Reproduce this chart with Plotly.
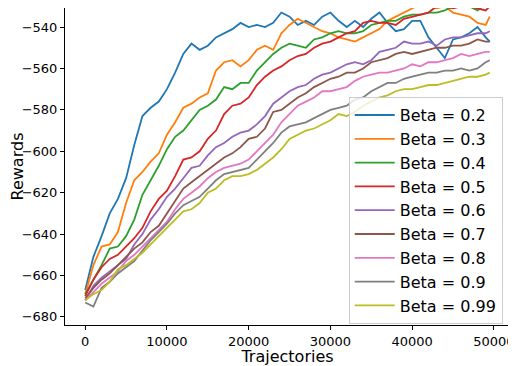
import plotly.graph_objects as go

# trajectories axis (sampled every 1000, last point at 49500)
trajectories = list(range(0, 50000, 1000)) + [49500]

beta_labels = ["Beta = 0.2", "Beta = 0.3", "Beta = 0.4", "Beta = 0.5", "Beta = 0.6",
               "Beta = 0.7", "Beta = 0.8", "Beta = 0.9", "Beta = 0.99"]

beta_02 = [-667, -651, -641, -630, -623, -613, -597, -583, -579, -576,
           -570, -562, -553, -548, -551, -549, -545, -543, -541, -538,
           -540, -539, -540, -538, -533, -535, -539, -537, -539, -535,
           -533, -537, -540, -537, -540, -536, -533, -538, -542, -541,
           -537, -537, -545, -550, -555, -546, -545, -543, -540, -545, -547]
beta_03 = [-669, -655, -646, -645, -639, -625, -614, -610, -605, -601,
           -592, -586, -579, -577, -574, -572, -561, -557, -556, -559,
           -556, -551, -549, -551, -543, -539, -536, -538, -540, -542,
           -543, -545, -546, -547, -545, -543, -541, -537, -535, -533,
           -531, -529, -530, -531, -530, -533, -534, -535, -538, -539, -535]
beta_04 = [-669, -662, -655, -647, -646, -641, -633, -621, -614, -607,
           -599, -593, -590, -585, -580, -578, -575, -569, -570, -567,
           -567, -561, -557, -553, -550, -548, -549, -550, -546, -545,
           -543, -542, -543, -543, -542, -539, -538, -537, -537, -535,
           -534, -534, -533, -533, -532, -530, -529, -530, -532, -529, -529]
beta_05 = [-670, -662, -656, -652, -650, -646, -642, -637, -629, -623,
           -619, -612, -604, -603, -600, -594, -590, -582, -578, -577,
           -574, -568, -564, -561, -559, -556, -554, -553, -550, -548,
           -547, -545, -543, -542, -538, -537, -538, -538, -539, -536,
           -535, -534, -533, -530, -530, -531, -530, -530, -531, -532, -530]
beta_06 = [-672, -665, -661, -658, -655, -652, -645, -640, -633, -628,
           -622, -618, -613, -608, -607, -602, -598, -596, -593, -591,
           -590, -587, -583, -577, -574, -571, -569, -568, -565, -563,
           -562, -560, -558, -557, -558, -556, -552, -551, -550, -547,
           -548, -548, -547, -549, -546, -545, -545, -544, -543, -543, -542]
beta_07 = [-671, -666, -662, -659, -655, -651, -647, -644, -639, -636,
           -630, -624, -618, -615, -612, -609, -606, -603, -601, -598,
           -594, -593, -589, -581, -580, -577, -574, -572, -569, -567,
           -565, -564, -562, -562, -560, -557, -556, -555, -553, -552,
           -553, -552, -551, -550, -550, -549, -549, -548, -546, -547, -547]
beta_08 = [-672, -668, -664, -661, -658, -653, -650, -646, -642, -638,
           -634, -628, -623, -620, -617, -613, -610, -608, -607, -606,
           -604, -600, -596, -592, -586, -582, -578, -576, -574, -571,
           -571, -570, -569, -566, -564, -563, -562, -562, -561, -560,
           -558, -559, -557, -557, -556, -555, -553, -554, -553, -552, -552]
beta_09 = [-673, -675, -666, -663, -659, -656, -653, -648, -643, -639,
           -635, -630, -626, -624, -622, -618, -614, -611, -610, -609,
           -608, -604, -600, -596, -591, -588, -587, -586, -584, -582,
           -580, -579, -578, -575, -574, -571, -569, -567, -567, -565,
           -564, -563, -562, -562, -561, -561, -560, -561, -560, -557, -556]
beta_099 = [-672, -669, -667, -663, -657, -655, -652, -649, -645, -641,
            -637, -633, -629, -628, -625, -620, -618, -614, -612, -612,
            -611, -609, -606, -603, -599, -594, -592, -590, -589, -587,
            -585, -582, -583, -581, -578, -576, -574, -573, -571, -570,
            -570, -569, -568, -568, -567, -566, -565, -564, -564, -563, -562]

series = [beta_02, beta_03, beta_04, beta_05, beta_06, beta_07, beta_08, beta_09, beta_099]
colors = ["#1f77b4", "#ff7f0e", "#2ca02c", "#d62728", "#9467bd",
          "#8c564b", "#e377c2", "#7f7f7f", "#bcbd22"]

y_ticks = [-680, -660, -640, -620, -600, -580, -560, -540]
x_ticks = [0, 10000, 20000, 30000, 40000, 50000]

fig = go.Figure()
for label, vals, col in zip(beta_labels, series, colors):
    fig.add_trace(go.Scatter(
        x=trajectories, y=vals, mode="lines", name=label,
        line=dict(color=col, width=1.8)
    ))

axis_style = dict(showline=True, linecolor="black", linewidth=1, ticks="outside",
                  ticklen=4, tickcolor="black", showgrid=False, zeroline=False,
                  mirror=False, tickfont=dict(size=13, color="black"))

# page body has an 8px margin, so the figure is shifted/shrunk to compensate
fig.update_layout(
    width=508, height=358,
    margin=dict(l=55, r=6, t=0, b=41),
    paper_bgcolor="white", plot_bgcolor="white",
    font=dict(family="DejaVu Sans", color="black"),
    xaxis=dict(range=[-2475, 51975], tickvals=x_ticks,
               ticktext=[str(v) for v in x_ticks],
               title=dict(text="Trajectories", font=dict(size=16), standoff=2),
               **axis_style),
    yaxis=dict(range=[-683.9, -530.8], tickvals=y_ticks,
               ticktext=["\u2212" + str(-v) for v in y_ticks],
               title=dict(text="Rewards", font=dict(size=16), standoff=2),
               **axis_style),
    legend=dict(x=0.6376, y=0.719, xanchor="left", yanchor="top",
                bgcolor="rgba(255,255,255,0.8)", bordercolor="#cccccc", borderwidth=1,
                font=dict(size=16), itemwidth=40),
    showlegend=True,
)

fig.write_html("out.html")
